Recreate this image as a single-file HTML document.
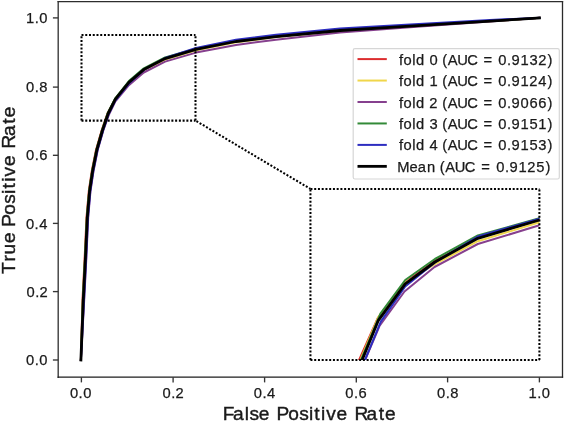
<!DOCTYPE html>
<html><head><meta charset="utf-8"><style>
html,body{margin:0;padding:0;background:#fff;width:566px;height:421px;overflow:hidden;}
svg{display:block;will-change:transform;filter:blur(0.4px);font-family:"Liberation Sans",sans-serif;}
</style></head><body>
<svg width="566" height="421" viewBox="0 0 566 421">
<defs><clipPath id="ax"><rect x="58.4" y="1.7" width="504.1" height="375.5"/></clipPath><clipPath id="ins"><rect x="310.45" y="188.95" width="228.95" height="171.05"/></clipPath></defs>
<rect width="566" height="421" fill="#fff"/>
<g fill="none" stroke-linejoin="round" stroke-linecap="square" clip-path="url(#ax)">
<polyline points="80.90,360.00 82.50,300.00 84.60,259.00 86.50,217.50 88.80,191.00 91.80,171.00 96.00,150.00 101.60,130.50 107.40,113.50 115.40,98.60 128.90,82.00 143.80,69.30 165.10,58.60 196.00,49.40 236.00,41.50 276.00,36.60 340.00,30.50 410.00,26.20 490.00,21.10 539.40,17.90" stroke="#dc2c2e" stroke-width="2.0"/>
<polyline points="80.90,360.00 82.90,300.00 85.00,259.00 86.90,217.50 89.20,191.00 92.20,171.00 96.40,150.00 102.00,130.50 107.80,113.50 115.40,98.70 128.90,82.10 143.80,70.20 165.10,59.50 196.00,50.20 236.00,42.20 276.00,37.10 340.00,30.90 410.00,26.50 490.00,21.30 539.40,17.90" stroke="#f0d64a" stroke-width="2.0"/>
<polyline points="80.90,360.00 84.20,300.00 86.30,259.00 88.20,217.50 90.50,191.00 93.50,171.00 97.70,150.00 103.30,130.50 109.10,114.20 115.40,101.40 128.90,85.20 143.80,72.50 165.10,61.60 196.00,52.60 236.00,44.90 276.00,39.80 340.00,32.40 410.00,27.20 490.00,21.50 539.40,17.90" stroke="#86408e" stroke-width="2.0"/>
<polyline points="80.90,360.00 82.80,300.00 84.90,259.00 86.80,217.50 89.10,191.00 92.10,171.00 96.30,150.00 101.90,130.50 107.70,113.00 115.40,98.00 128.90,81.00 143.80,68.30 165.10,57.50 196.00,48.60 236.00,41.10 276.00,36.40 340.00,30.30 410.00,26.10 490.00,21.10 539.40,17.90" stroke="#338a38" stroke-width="2.0"/>
<polyline points="80.90,360.00 84.00,300.00 86.10,259.00 88.00,217.50 90.30,191.00 93.30,171.00 97.50,150.00 103.10,130.50 108.90,113.50 115.40,100.40 128.90,83.60 143.80,70.00 165.10,58.00 196.00,47.90 236.00,39.70 276.00,34.70 340.00,28.50 410.00,24.40 490.00,19.90 539.40,17.90" stroke="#2d2dc0" stroke-width="2.0"/>
<polyline points="80.90,360.00 83.30,300.00 85.40,259.00 87.30,217.50 89.60,191.00 92.60,171.00 96.80,150.00 102.40,130.50 108.20,113.50 115.40,99.20 128.90,82.40 143.80,69.60 165.10,58.60 196.00,49.40 236.00,41.50 276.00,36.60 340.00,30.50 410.00,26.20 490.00,21.10 539.40,17.90" stroke="#000" stroke-width="2.8"/>
</g>
<g fill="none" stroke-linejoin="round" stroke-linecap="butt" clip-path="url(#ins)">
<polyline points="353.78,372.00 359.10,360.00 377.60,318.30 405.20,282.20 434.90,261.00 477.80,238.00 539.40,220.00 545.40,218.25" stroke="#dc2c2e" stroke-width="2.0"/>
<polyline points="355.38,372.00 360.40,360.00 378.60,316.50 405.20,282.60 434.90,264.20 477.80,241.20 539.40,222.30 545.40,220.46" stroke="#f0d64a" stroke-width="2.0"/>
<polyline points="360.02,372.00 365.10,360.00 379.50,326.00 404.50,291.50 434.50,267.00 477.80,244.00 539.40,225.30 545.40,223.48" stroke="#86408e" stroke-width="2.0"/>
<polyline points="355.97,372.00 361.00,360.00 380.40,313.70 405.20,280.00 434.90,259.00 477.80,235.50 539.40,218.30 545.40,216.62" stroke="#338a38" stroke-width="2.0"/>
<polyline points="360.06,372.00 365.00,360.00 380.80,321.60 405.20,286.50 434.90,262.40 477.80,236.50 539.40,218.60 545.40,216.86" stroke="#2d2dc0" stroke-width="2.0"/>
<polyline points="357.17,372.00 362.10,360.00 378.40,320.30 405.20,283.80 434.90,262.00 477.80,238.30 539.40,220.00 545.40,218.22" stroke="#000" stroke-width="2.8"/>
</g>
<g fill="none" stroke="#000" stroke-width="2.05" stroke-dasharray="2.0 1.745"><line x1="81.50" y1="120.60" x2="195.50" y2="120.60"/><line x1="81.50" y1="35.00" x2="195.50" y2="35.00"/><line x1="81.50" y1="120.60" x2="81.50" y2="35.00"/><line x1="195.50" y1="120.60" x2="195.50" y2="35.00"/><line x1="310.45" y1="359.95" x2="539.40" y2="359.95"/><line x1="310.45" y1="188.95" x2="539.40" y2="188.95"/><line x1="310.45" y1="359.95" x2="310.45" y2="188.95"/><line x1="539.40" y1="359.95" x2="539.40" y2="188.95"/><line x1="310.45" y1="188.95" x2="195.50" y2="120.60" stroke-dashoffset="0.40"/></g>
<g fill="none" stroke-linecap="square"><line x1="58.2" y1="1.7" x2="58.2" y2="377.2" stroke="#3c3c3c" stroke-width="1.4"/><line x1="562.5" y1="1.7" x2="562.5" y2="377.2" stroke="#2a2a2a" stroke-width="1.3"/><line x1="58.2" y1="1.7" x2="562.5" y2="1.7" stroke="#2d2d2d" stroke-width="1.3"/><line x1="58.2" y1="377.2" x2="562.5" y2="377.2" stroke="#1c1c1c" stroke-width="1.25"/></g>
<g stroke="#353535" stroke-width="1.35"><line x1="81.40" y1="377.2" x2="81.40" y2="382.4"/><line x1="58.2" y1="360.00" x2="52.9" y2="360.00"/><line x1="173.10" y1="377.2" x2="173.10" y2="382.4"/><line x1="58.2" y1="291.60" x2="52.9" y2="291.60"/><line x1="264.60" y1="377.2" x2="264.60" y2="382.4"/><line x1="58.2" y1="223.40" x2="52.9" y2="223.40"/><line x1="356.30" y1="377.2" x2="356.30" y2="382.4"/><line x1="58.2" y1="155.30" x2="52.9" y2="155.30"/><line x1="447.60" y1="377.2" x2="447.60" y2="382.4"/><line x1="58.2" y1="87.10" x2="52.9" y2="87.10"/><line x1="539.40" y1="377.2" x2="539.40" y2="382.4"/><line x1="58.2" y1="17.90" x2="52.9" y2="17.90"/></g>
<g font-size="14.72" fill="#1a1a1a" stroke="#1a1a1a" stroke-width="0.25"><text x="69.88 78.55 83.13" y="398.00">0.0</text><text x="26.06 34.73 39.31" y="365.46">0.0</text><text x="162.52 171.19 175.58" y="398.00">0.2</text><text x="26.52 35.19 39.59" y="297.36">0.2</text><text x="253.71 262.38 266.96" y="398.00">0.4</text><text x="25.91 34.58 39.16" y="228.96">0.4</text><text x="345.36 354.03 358.61" y="398.00">0.6</text><text x="26.01 34.68 39.26" y="160.01">0.6</text><text x="437.09 445.77 450.35" y="398.00">0.8</text><text x="26.08 34.75 39.33" y="91.81">0.8</text><text x="528.45 537.20 541.78" y="398.00">1.0</text><text x="25.98 34.73 39.31" y="23.46">1.0</text></g>
<g font-size="19.14" fill="#1a1a1a" stroke="#1a1a1a" stroke-width="0.40"><text x="222.66 233.07 244.83 249.38 258.81 271.75 276.49 288.24 299.14 308.90 314.37 321.01 326.21 336.62 349.65 354.52 366.62 378.71 384.96" y="419.90">False Positive Rate</text></g>
<g font-size="19.14" fill="#1a1a1a" stroke="#1a1a1a" stroke-width="0.40" transform="translate(14.8,421) rotate(-90)"><text x="147.11 159.49 166.53 178.05 190.35 194.34 206.19 217.20 227.03 232.56 239.27 244.55 255.07 267.80 272.48 284.91 297.29 303.82" y="0.00">True Positive Rate</text></g>
<rect x="353.2" y="48.6" width="206.1" height="130.4" rx="1.8" fill="#fff" fill-opacity="0.8" stroke="#d6d6d6" stroke-width="1.2"/>
<line x1="357.5" y1="59.10" x2="386.8" y2="59.10" stroke="#dc2c2e" stroke-width="2.0"/><line x1="357.5" y1="80.55" x2="386.8" y2="80.55" stroke="#f0d64a" stroke-width="2.0"/><line x1="357.5" y1="102.00" x2="386.8" y2="102.00" stroke="#86408e" stroke-width="2.0"/><line x1="357.5" y1="123.45" x2="386.8" y2="123.45" stroke="#338a38" stroke-width="2.0"/><line x1="357.5" y1="144.90" x2="386.8" y2="144.90" stroke="#2d2dc0" stroke-width="2.0"/><line x1="357.5" y1="166.35" x2="386.8" y2="166.35" stroke="#000" stroke-width="2.8"/>
<g font-size="14.72" fill="#1a1a1a" stroke="#1a1a1a" stroke-width="0.25"><text x="399.07 403.58 412.24 416.07 424.68 429.47 438.01 442.34 447.76 457.24 467.15 477.41 483.41 493.55 498.34 507.04 511.62 520.47 529.45 538.13 547.50" y="64.60">fold 0 (AUC = 0.9132)</text><text x="399.07 403.58 412.24 416.07 424.68 429.39 438.01 442.34 447.76 457.24 467.15 477.41 483.41 493.55 498.34 507.04 511.62 520.47 529.25 538.31 547.50" y="86.05">fold 1 (AUC = 0.9124)</text><text x="399.07 403.58 412.24 416.07 424.68 429.28 438.01 442.34 447.76 457.24 467.15 477.41 483.41 493.55 498.34 507.04 511.62 520.55 529.43 538.31 547.50" y="107.50">fold 2 (AUC = 0.9066)</text><text x="399.07 403.58 412.24 416.07 424.68 429.49 438.01 442.34 447.76 457.24 467.15 477.41 483.41 493.55 498.34 507.04 511.62 520.47 529.38 538.24 547.50" y="128.95">fold 3 (AUC = 0.9151)</text><text x="399.07 403.58 412.24 416.07 424.68 429.47 438.01 442.34 447.76 457.24 467.15 477.41 483.41 493.55 498.34 507.04 511.62 520.47 529.38 538.33 547.50" y="150.40">fold 4 (AUC = 0.9153)</text><text x="397.15 409.59 417.66 426.97 435.48 439.86 445.31 454.85 464.81 475.11 481.16 491.33 496.17 504.91 509.52 518.42 527.25 536.31 545.59" y="171.85">Mean (AUC = 0.9125)</text></g>
</svg>
</body></html>
